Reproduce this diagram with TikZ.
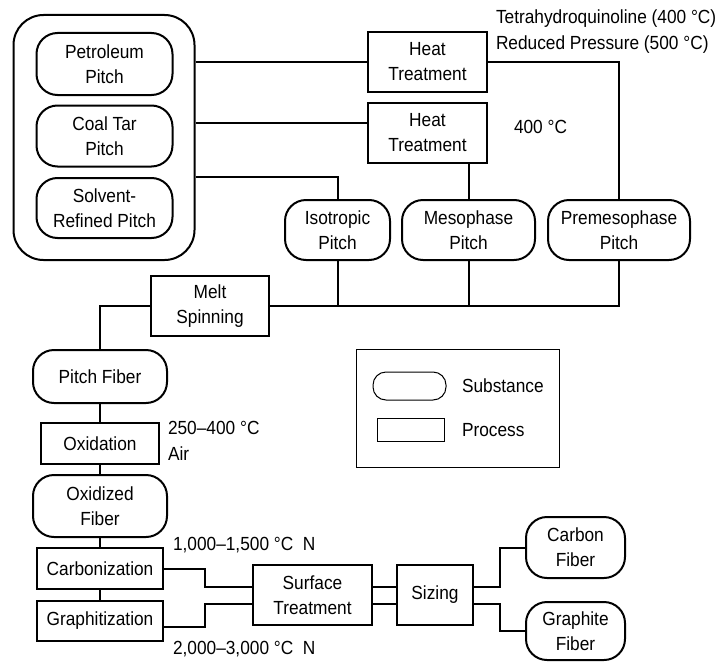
\documentclass[tikz,border=0pt]{standalone}
\usepackage{fontspec}
\setmainfont{Liberation Sans}[FakeStretch=0.91]
\usetikzlibrary{positioning,calc}

\begin{document}
\begin{tikzpicture}[x=1pt,y=-1pt,line width=2pt,every node/.style={font=\fontsize{19}{25}\selectfont,inner sep=0pt},sub/.style={draw,rounded corners=21pt,align=center},proc/.style={draw,align=center},lbl/.style={anchor=west,text height=13.5pt,text depth=0pt},legline/.style={line width=1pt}]
        \useasboundingbox (0,0) rectangle (719,661);
        \node[draw,rounded corners=30pt,minimum width=181,minimum height=245] (grp) at (104,137.5) {};
        \node[sub,minimum width=136,minimum height=62] (pet) at (104.5,64) {Petroleum\\Pitch};
        \node[sub,minimum width=136,minimum height=61] (coal) at (104.5,136) {Coal Tar\\Pitch};
        \node[sub,minimum width=136,minimum height=60] (solv) at (104.5,208) {Solvent-\\Refined Pitch};
        \node[proc,minimum width=119,minimum height=60] (ht1) at (427.5,62) {Heat\\Treatment};
        \node[proc,minimum width=119,minimum height=60] (ht2) at (427.5,133) {Heat\\Treatment};
        \node[sub,minimum width=105,minimum height=60] (iso) at (337.5,230) {Isotropic\\Pitch};
        \node[sub,minimum width=133,minimum height=60] (meso) at (468.5,230) {Mesophase\\Pitch};
        \node[sub,minimum width=142,minimum height=60] (preme) at (619,230) {Premesophase\\Pitch};
        \node[proc,minimum width=118,minimum height=60] (melt) at (210,306) {Melt\\Spinning};
        \node[sub,minimum width=134,minimum height=53] (pfib) at (100,376.5) {Pitch Fiber};
        \node[proc,minimum width=118,minimum height=41] (oxid) at (100,443.5) {Oxidation};
        \node[sub,minimum width=134,minimum height=62] (oxfib) at (100,506) {Oxidized\\Fiber};
        \node[proc,minimum width=126,minimum height=41] (carb) at (100,568.5) {Carbonization};
        \node[proc,minimum width=126,minimum height=40] (graph) at (100,621) {Graphitization};
        \node[proc,minimum width=119,minimum height=60] (surf) at (312.5,595) {Surface\\Treatment};
        \node[proc,minimum width=76,minimum height=60] (siz) at (435,595) {Sizing};
        \node[sub,minimum width=99,minimum height=61] (cfib) at (575.5,547.5) {Carbon\\Fiber};
        \node[sub,minimum width=99,minimum height=58] (gfib) at (575.5,631) {Graphite\\Fiber};
        \node[lbl] (thq) at (495,17) {Tetrahydroquinoline (400 °C)};
        \node[lbl] (redp) at (495,43) {Reduced Pressure (500 °C)};
        \node[lbl] (t400) at (513,127) {400 °C};
        \node[lbl] (toxid) at (167,428) {250–400 °C};
        \node[lbl] (air) at (167,454) {Air};
        \node[lbl] (tcarb) at (172,544) {1,000–1,500 °C\ \ N};
        \node[lbl] (tgraph) at (172,648) {2,000–3,000 °C\ \ N};
        \node[draw,legline,minimum width=203,minimum height=118] (leg) at (457.5,408) {};
        \node[draw,legline,rounded corners=13pt,minimum width=73,minimum height=28] (legs) at (409.5,386) {};
        \node[draw,legline,minimum width=67,minimum height=23] (legp) at (410.5,429.5) {};
        \node[lbl] (tsub) at (461,386) {Substance};
        \node[lbl] (tproc) at (461,430) {Process};
        \draw (grp.east |- ht1) -- (ht1.west);
        \draw ([yshift=10pt]ht2.west -| grp.east) -- ([yshift=10pt]ht2.west);
        \draw ([yshift=-39.5pt]grp.east) -| (iso.north);
        \draw (ht1.east) -| (preme.north);
        \draw (meso.north |- ht2.south) -- (meso.north);
        \draw (iso.south) -- (iso.south |- melt.east);
        \draw (meso.south) -- (meso.south |- melt.east);
        \draw (melt.east) -| (preme.south);
        \draw (melt.west) -| (pfib.north);
        \draw (pfib.south) -- (oxid.north);
        \draw (oxid.south) -- (oxfib.north);
        \draw (oxfib.south) -- (carb.north);
        \draw (carb.south) -- (graph.north);
        \draw (carb.east) -- ++(41,0) |- ([yshift=8pt]surf.west);
        \draw ([yshift=-6pt]graph.east) -- ++(41,0) |- ([yshift=-9pt]surf.west);
        \draw ([yshift=8pt]surf.east) -- ([yshift=8pt]siz.west);
        \draw ([yshift=-9pt]surf.east) -- ([yshift=-9pt]siz.west);
        \draw ([yshift=8pt]siz.east) -- ++(26,0) |- (cfib.west);
        \draw ([yshift=-9pt]siz.east) -- ++(26,0) |- (gfib.west);
      \end{tikzpicture}
\end{document}
